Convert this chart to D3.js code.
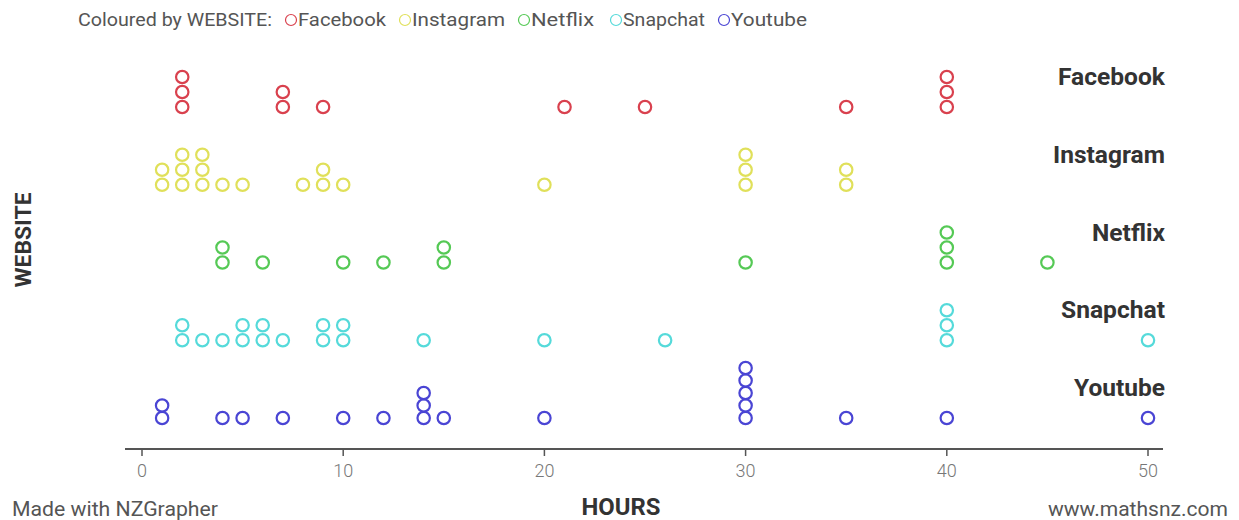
<!DOCTYPE html>
<html>
<head>
<meta charset="utf-8">
<script src="https://cdn.jsdelivr.net/npm/d3@7"></script>
<style>
  body { margin: 0; background: #fff; }
  text { font-family: Roboto, "Noto Sans", sans-serif; }
</style>
</head>
<body>
<div id="chart"></div>
<script>
// data (hours per person, by website)
var websites = ["Facebook", "Instagram", "Netflix", "Snapchat", "Youtube"];
var facebookHours = [2, 2, 2, 7, 7, 9, 21, 25, 35, 40, 40, 40];
var instagramHours = [1, 1, 2, 2, 2, 3, 3, 3, 4, 5, 8, 9, 9, 10, 20, 30, 30, 30, 35, 35];
var netflixHours = [4, 4, 6, 10, 12, 15, 15, 30, 40, 40, 40, 45];
var snapchatHours = [2, 2, 3, 4, 5, 5, 6, 6, 7, 9, 9, 10, 10, 14, 20, 26, 40, 40, 40, 50];
var youtubeHours = [1, 1, 4, 5, 7, 10, 12, 14, 14, 14, 15, 20, 30, 30, 30, 30, 30, 35, 40, 50];
var xTicks = [0, 10, 20, 30, 40, 50];

var hoursBySite = [facebookHours, instagramHours, netflixHours, snapchatHours, youtubeHours];
var colours = ["#d9414e", "#e0e05a", "#55c955", "#55dada", "#4a45d4"];

var svgWidth = 1239;
var svgHeight = 520;

var svg = d3.select("#chart")
  .append("svg")
  .attr("width", svgWidth)
  .attr("height", svgHeight);

// scales
var xScale = d3.scaleLinear()
  .domain([0, 50])
  .range([142, 1148]);

var yScale = d3.scalePoint()
  .domain(websites)
  .range([107, 418]);

var colour = d3.scaleOrdinal()
  .domain(websites)
  .range(colours);

// build stacked points
var points = [];
websites.forEach(function(site, i) {
  var counts = {};
  hoursBySite[i].forEach(function(h) { counts[h] = (counts[h] || 0) + 1; });
  var maxCount = d3.max(Object.values(counts));
  var gap = maxCount > 1 ? Math.min(15, 50 / (maxCount - 1)) : 15;
  var seen = {};
  hoursBySite[i].forEach(function(h) {
    seen[h] = (seen[h] || 0);
    points.push({ site: site, hours: h, level: seen[h], gap: gap });
    seen[h] += 1;
  });
});

// axis
var axisY = 449;
svg.append("line")
  .attr("x1", 125).attr("x2", 1163)
  .attr("y1", axisY).attr("y2", axisY)
  .attr("stroke", "#555").attr("stroke-width", 2);

var ticks = svg.append("g").selectAll("g")
  .data(xTicks)
  .enter().append("g")
  .attr("transform", d => `translate(${xScale(d)}, ${axisY})`);

ticks.append("line")
  .attr("y1", 0).attr("y2", 7)
  .attr("stroke", "#555").attr("stroke-width", 1.5);

ticks.append("text")
  .attr("y", 28)
  .attr("text-anchor", "middle")
  .attr("fill", "#777")
  .attr("font-size", 18)
  .attr("font-weight", 300)
  .text(d => d);

// dots
svg.append("g").selectAll("circle")
  .data(points)
  .enter().append("circle")
  .attr("cx", d => xScale(d.hours))
  .attr("cy", d => yScale(d.site) - d.level * d.gap)
  .attr("r", 6.2)
  .attr("fill", "none")
  .attr("stroke", d => colour(d.site))
  .attr("stroke-width", 2.2);

// row labels
var labelWidths = [107, 112, 73, 104, 91];
svg.append("g").selectAll("text")
  .data(websites)
  .enter().append("text")
  .attr("x", 1165)
  .attr("y", d => yScale(d) - 22)
  .attr("text-anchor", "end")
  .attr("font-size", 23)
  .attr("font-weight", "bold")
  .attr("fill", "#333")
  .attr("textLength", (d, i) => labelWidths[i])
  .attr("lengthAdjust", "spacingAndGlyphs")
  .text(d => d);

// legend
var legend = svg.append("g").attr("font-size", 18).attr("fill", "#555");
legend.append("text")
  .attr("x", 78).attr("y", 26)
  .attr("textLength", 194)
  .attr("lengthAdjust", "spacingAndGlyphs")
  .text("Coloured by WEBSITE:");
var legendX = [291, 405, 524, 616, 724];
var legendWidths = [88, 93, 63, 82, 76];
websites.forEach(function(site, i) {
  legend.append("circle")
    .attr("cx", legendX[i]).attr("cy", 20).attr("r", 5.5)
    .attr("fill", "none")
    .attr("stroke", colour(site))
    .attr("stroke-width", 1.2);
  legend.append("text")
    .attr("x", legendX[i] + 7).attr("y", 26)
    .attr("textLength", legendWidths[i])
    .attr("lengthAdjust", "spacingAndGlyphs")
    .text(site);
});

// axis titles
svg.append("text")
  .attr("x", 621).attr("y", 515)
  .attr("text-anchor", "middle")
  .attr("font-size", 23)
  .attr("font-weight", "bold")
  .attr("fill", "#333")
  .attr("textLength", 79)
  .attr("lengthAdjust", "spacingAndGlyphs")
  .text("HOURS");

svg.append("text")
  .attr("transform", "translate(31, 240) rotate(-90)")
  .attr("text-anchor", "middle")
  .attr("font-size", 22)
  .attr("font-weight", "bold")
  .attr("fill", "#333")
  .attr("textLength", 95)
  .attr("lengthAdjust", "spacingAndGlyphs")
  .text("WEBSITE");

// footer
svg.append("text")
  .attr("x", 12).attr("y", 516)
  .attr("font-size", 20)
  .attr("fill", "#555")
  .attr("textLength", 206)
  .attr("lengthAdjust", "spacingAndGlyphs")
  .text("Made with NZGrapher");

svg.append("text")
  .attr("x", 1228).attr("y", 516)
  .attr("text-anchor", "end")
  .attr("font-size", 20)
  .attr("fill", "#555")
  .attr("textLength", 180)
  .attr("lengthAdjust", "spacingAndGlyphs")
  .text("www.mathsnz.com");
</script>
</body>
</html>
